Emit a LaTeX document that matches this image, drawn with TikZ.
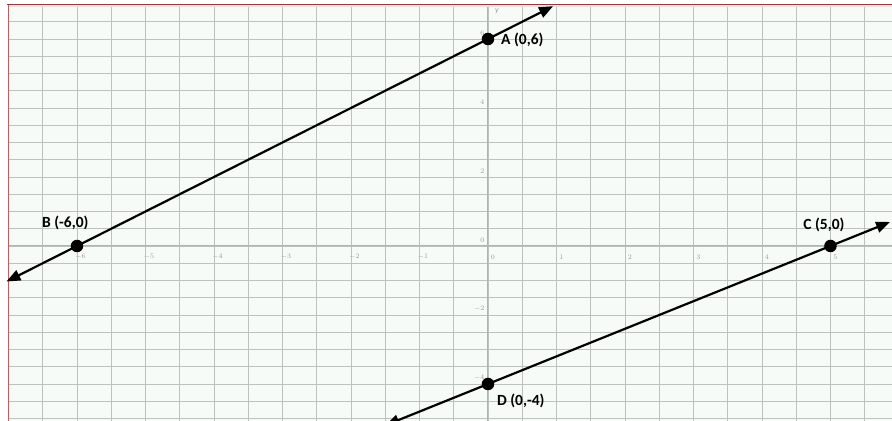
\documentclass[tikz,border=0pt]{standalone}
\usepackage{fontspec}
\setmainfont{Carlito}
\usetikzlibrary{arrows.meta}
\definecolor{bgmint}{HTML}{F6FBF8}
\definecolor{gridc}{HTML}{BCC3BF}
\definecolor{axisc}{HTML}{D4A3A3}
\definecolor{framec}{HTML}{8E3B3E}
\definecolor{framel}{HTML}{C85A5F}
\definecolor{bandc}{HTML}{F6DCDC}
\definecolor{tickc}{HTML}{9A9A9A}
\tikzset{
  dot/.style={circle,fill=black,inner sep=0pt,minimum size=12.5pt},
  ptlabel/.style={font=\fontsize{15.5}{17}\selectfont\bfseries,inner sep=0pt},
  ray/.style={line width=2.2pt,{Triangle[length=14pt,width=11pt]}-{Triangle[length=14pt,width=11pt]}},
  gridline/.style={gridc,line width=0.8pt},
  axisline/.style={axisc,line width=1pt},
  ticklab/.style={font=\fontsize{7}{8}\selectfont,text=tickc,inner sep=0pt},
}
\begin{document}
\begin{tikzpicture}[x=68.5pt,y=34.5pt]
\useasboundingbox (-7.124,-5.072) rectangle (5.898,7.130);
\fill[white] (-7.124,-5.072) rectangle (5.898,7.130);
\fill[bgmint] (-7,-5.072) rectangle (5.898,7);
% grid
\foreach \i in {-14,...,11} \draw[gridline] (\i/2,-5.072) -- (\i/2,7);
\foreach \j in {-10,...,14} \draw[gridline] (-7,\j/2) -- (5.898,\j/2);
% axes
\draw[axisline] (-7,0) -- (5.898,0);
\draw[axisline] (0,-5.072) -- (0,7);
% tick labels
\foreach \v in {-6,...,-1} \node[ticklab] (tx\v) at (\v+0.05,-0.32) {$\v$};
\foreach \v in {0,...,5} \node[ticklab] (tx\v) at (\v+0.07,-0.32) {$\v$};
\foreach \v in {-4,-2,0,2,4,6} \node[ticklab,anchor=east] (ty\v) at (-0.05,\v+0.17) {$\v$};
\node[ticklab,font=\fontsize{8}{9}\selectfont\itshape] (ylab) at (0.13,6.8) {y};
% frame
\fill[bandc] (-7,7) rectangle (5.898,6.92);
\draw[framel,line width=1.2pt] (-7,-5.072) -- (-7,7);
\draw[framec,line width=1.5pt] (-7.02,7) -- (5.898,7);
% lines
\coordinate (L1a) at (-7.03,-1.03);
\coordinate (L1b) at (0.95,6.95);
\coordinate (L2a) at (-1.5,-5.2);
\coordinate (L2b) at (5.87,0.696);
\draw[ray] (L1a) -- (L1b);
\draw[ray] (L2a) -- (L2b);
% points
\node[dot] (A) at (0,6) {};
\node[dot] (B) at (-6,0) {};
\node[dot] (C) at (5,0) {};
\node[dot] (D) at (0,-4) {};
\node[ptlabel,anchor=west] (Al) at (0.19,5.97) {A (0,6)};
\node[ptlabel] (Bl) at (-6.17,0.67) {B (-6,0)};
\node[ptlabel] (Cl) at (4.905,0.61) {C (5,0)};
\node[ptlabel,anchor=west] (Dl) at (0.13,-4.48) {D (0,-4)};
\end{tikzpicture}
\end{document}
